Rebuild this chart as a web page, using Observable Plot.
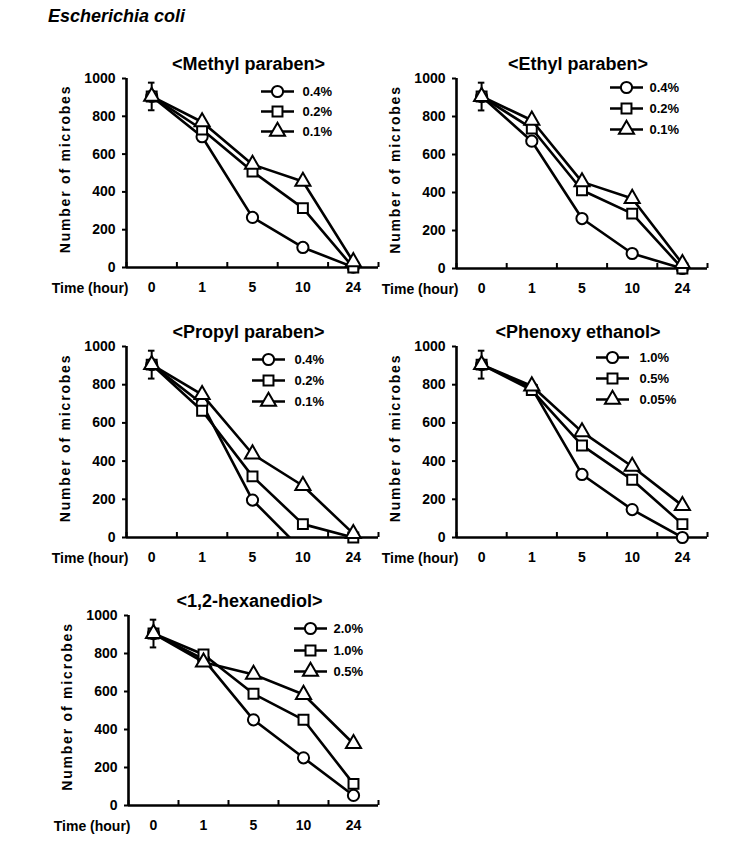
<!DOCTYPE html>
<html><head><meta charset="utf-8">
<script src="https://cdn.jsdelivr.net/npm/d3@7"></script>
<script src="https://cdn.jsdelivr.net/npm/@observablehq/plot@0.6"></script>
<style>
body{margin:0;background:#fff;}
#wrap{position:relative;width:747px;height:845px;overflow:hidden;font-family:"Liberation Sans",Arial,sans-serif;background:#fff;}
#main{position:absolute;left:48px;top:6px;font-size:18px;font-weight:bold;font-style:italic;color:#000;}
.panel{position:absolute;}
</style></head><body><div id="wrap"><div id="main">Escherichia coli</div></div>
<script>
// ---- data ----
const hours = ["0","1","5","10","24"];
const yTicks = [0,200,400,600,800,1000];
const startMean = 905, startErr = 73;

const methylLabels = ["0.4%","0.2%","0.1%"];
const methyl04 = [905, 692, 265, 106, 2];
const methyl02 = [905, 730, 508, 314, 0];
const methyl01 = [905, 770, 545, 455, 30];

const ethylLabels = ["0.4%","0.2%","0.1%"];
const ethyl04 = [905, 670, 263, 79, 0];
const ethyl02 = [905, 737, 412, 289, 0];
const ethyl01 = [905, 780, 456, 368, 25];

const propylLabels = ["0.4%","0.2%","0.1%"];
const propyl04 = [905, 700, 196, -70, null];
const propyl02 = [905, 664, 320, 70, 0];
const propyl01 = [905, 748, 437, 271, 20];

const phenoxyLabels = ["1.0%","0.5%","0.05%"];
const phenoxy10 = [905, 782, 330, 146, 0];
const phenoxy05 = [905, 772, 482, 302, 70];
const phenoxy005 = [905, 793, 553, 372, 167];

const hexLabels = ["2.0%","1.0%","0.5%"];
const hex20 = [905, 770, 451, 251, 53];
const hex10 = [905, 795, 588, 451, 114];
const hex05 = [905, 754, 690, 584, 325];

const symbols = ["circle","square","triangle"];

// ---- layout ----
const panels = [
  {title:"<Methyl paraben>", labels:methylLabels, series:[methyl04,methyl02,methyl01], left:40, top:38, pw:252, ph:189, lcx:151, ltx:176, ldy:[13,33,53]},
  {title:"<Ethyl paraben>", labels:ethylLabels, series:[ethyl04,ethyl02,ethyl01], left:370, top:38, pw:251, ph:190, lcx:170, ltx:193, ldy:[9,30,51]},
  {title:"<Propyl paraben>", labels:propylLabels, series:[propyl04,propyl02,propyl01], left:40, top:306, pw:252, ph:191, lcx:142, ltx:168, ldy:[13,34,55]},
  {title:"<Phenoxy ethanol>", labels:phenoxyLabels, series:[phenoxy10,phenoxy05,phenoxy005], left:370, top:306, pw:251, ph:191, lcx:156, ltx:183, ldy:[11,32,53]},
  {title:"<1,2-hexanediol>", labels:hexLabels, series:[hex20,hex10,hex05], left:42, top:575, pw:250, ph:190, lcx:182, ltx:205, ldy:[13,35,56]}
];

const lineSym = {draw(ctx){ ctx.moveTo(-16.5,0); ctx.lineTo(16.5,0); }};
const bounds = d3.range(hours.length + 1).map(i => i - 0.5);
const wrap = document.getElementById("wrap");
const yLabel = "Number of microbes";

for (const p of panels) {
  const mL = 86, mT = 40, mR = 8, mB = 32;
  const marks = [];
  // axes
  marks.push(Plot.axisY({ticks: yTicks, tickSize: 4, tickPadding: 7, strokeWidth: 2, label: null, fontSize: 14, tickFormat: d => String(d)}));
  marks.push(Plot.axisX({ticks: bounds, tickSize: -5, strokeWidth: 2, label: null, tickFormat: () => ""}));
  marks.push(Plot.axisX({ticks: d3.range(hours.length), tickSize: 0, tickPadding: 15, label: null, fontSize: 14, tickFormat: i => hours[i]}));
  marks.push(Plot.ruleY([0], {strokeWidth: 2.6}));
  marks.push(Plot.ruleX([-0.5], {strokeWidth: 2.6}));
  marks.push(Plot.text(["Time (hour)"], {frameAnchor: "bottom-left", textAnchor: "end", lineAnchor: "middle", dx: 2, dy: 21, fontSize: 14, fontWeight: "bold"}));
  marks.push(Plot.text([yLabel], {frameAnchor: "left", textAnchor: "middle", lineAnchor: "middle", rotate: -90, dx: -61, dy: -4, fontSize: 14, fontWeight: "bold"}));
  marks.push(Plot.text([p.title], {frameAnchor: "top", lineAnchor: "middle", dx: -4, dy: -14, fontSize: 18, fontWeight: "bold"}));
  // error bar at time 0
  marks.push(Plot.ruleX([{x: 0, y1: startMean - startErr, y2: startMean + startErr}], {x: "x", y1: "y1", y2: "y2", strokeWidth: 2}));
  marks.push(Plot.ruleY([startMean - startErr, startMean + startErr], {x1: () => -0.065, x2: () => 0.065, strokeWidth: 2}));
  // series
  p.series.forEach((s, k) => {
    const rows = s.map((v, i) => ({i, v}));
    marks.push(Plot.line(rows, {x: "i", y: "v", stroke: "black", strokeWidth: 2.6, clip: true}));
    marks.push(Plot.dot(rows.filter(d => d.v != null && d.v >= 0), {x: "i", y: "v", symbol: symbols[k], r: 5.6, fill: "white", stroke: "black", strokeWidth: 2}));
  });
  // legend
  p.labels.forEach((lab, k) => {
    marks.push(Plot.dot([lab], {frameAnchor: "top-left", dx: p.lcx, dy: p.ldy[k], symbol: lineSym, fill: "none", stroke: "black", strokeWidth: 2.6}));
    marks.push(Plot.dot([lab], {frameAnchor: "top-left", dx: p.lcx, dy: p.ldy[k], symbol: symbols[k], r: 5.6, fill: "white", stroke: "black", strokeWidth: 2}));
    marks.push(Plot.text([lab], {frameAnchor: "top-left", dx: p.ltx, dy: p.ldy[k], text: d => d, textAnchor: "start", lineAnchor: "middle", fontSize: 13, fontWeight: "bold"}));
  });

  const svg = Plot.plot({
    width: mL + p.pw + mR,
    height: mT + p.ph + mB,
    marginLeft: mL, marginTop: mT, marginRight: mR, marginBottom: mB,
    x: {type: "linear", domain: [-0.5, hours.length - 0.5], axis: null},
    y: {type: "linear", domain: [0, 1000], axis: null},
    style: {fontFamily: '"Liberation Sans", Arial, sans-serif', fontSize: "14px", fontWeight: "bold", color: "black", background: "transparent", overflow: "visible"},
    marks
  });
  svg.querySelectorAll("text").forEach(t => { if (t.textContent === yLabel) t.style.letterSpacing = "1.8px"; });
  svg.classList.add("panel");
  svg.style.left = p.left + "px";
  svg.style.top = p.top + "px";
  svg.style.position = "absolute";
  wrap.appendChild(svg);
}
</script></body></html>
